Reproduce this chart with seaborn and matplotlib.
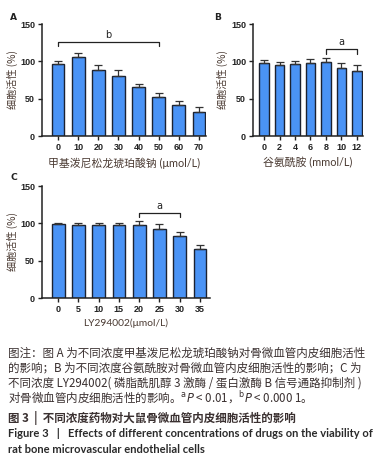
import matplotlib
matplotlib.use("Agg")
import matplotlib.pyplot as plt
import seaborn as sns
import numpy as np
import pandas as pd

sns.set_theme(style="ticks")
plt.rcParams['font.family'] = ['Noto Sans CJK SC', 'DejaVu Sans']

# Panel A
a_cats = ["0", "10", "20", "30", "40", "50", "60", "70"]
a_vals = [96, 106, 89, 81, 65, 52.5, 41, 31.5]
a_err = [4, 5.5, 6.5, 7, 4.5, 5.5, 6, 8]
a_xlabel = "甲基泼尼松龙琥珀酸钠 (μmol/L)"
# Panel B
b_cats = ["0", "2", "4", "6", "8", "10", "12"]
b_vals = [98, 95.5, 97, 98, 99.5, 91, 87]
b_err = [4, 4, 3, 4.5, 5, 6.5, 7.5]
b_xlabel = "谷氨酰胺 (mmol/L)"
# Panel C
c_cats = ["0", "5", "10", "15", "20", "25", "30", "35"]
c_vals = [98.5, 97.5, 97.5, 97.5, 97.5, 93, 83, 65.5]
c_err = [1.5, 3.5, 3, 3, 5.5, 5.5, 5, 6]
c_xlabel = "LY294002(μmol/L)"

ylabel = "细胞活性 (%)"
bar_color = "#4a93f5"
edge_color = "#1c2230"
label_color = "#4a3a32"
mixed = ["Lato", "Noto Sans CJK SC", "DejaVu Sans"]

fig = plt.figure(figsize=(3.79, 4.65), dpi=100)
W, H = 379, 465

def axes_px(l, t, r, b):
    return fig.add_axes([l / W, 1 - b / H, (r - l) / W, (b - t) / H])

def panel(ax, box, cats, vals, errs, xlabel, xlsize, xl_top, xlim, ylab_right, bracket=None):
    l, t, r, b = box
    df = pd.DataFrame({"c": cats, "v": vals})
    sns.barplot(data=df, x="c", y="v", ax=ax, color=bar_color, width=0.63,
                edgecolor=edge_color, linewidth=1.0, saturation=1, errorbar=None)
    pos = np.arange(len(cats))
    ax.errorbar(pos, vals, yerr=[np.zeros(len(errs)), errs], fmt="none",
                ecolor="#333333", elinewidth=0.9, capsize=3.2, capthick=0.9)
    ax.set_ylim(0, 150)
    ax.set_xlim(*xlim)
    ax.set_yticks([0, 50, 100, 150])
    for s in ["top", "right"]:
        ax.spines[s].set_visible(False)
    for s in ["left", "bottom"]:
        ax.spines[s].set_linewidth(1.1)
        ax.spines[s].set_color("#222222")
    ax.tick_params(axis="both", length=3, width=1.0, colors="#222222",
                   labelsize=6.5, pad=2)
    for lab in ax.get_xticklabels() + ax.get_yticklabels():
        lab.set_fontweight("bold")
        lab.set_color("#222222")
        lab.set_family(["Liberation Sans", "DejaVu Sans"])
    ax.set_xlabel(xlabel, fontsize=xlsize, color=label_color, family=mixed)
    ax.set_ylabel(ylabel, fontsize=7.3, color=label_color)
    ax.xaxis.set_label_coords(0.5, (b - xl_top) / (b - t))
    ax.yaxis.set_label_coords((ylab_right - l) / (r - l), 0.5)
    if bracket is not None:
        i0, i1, y, txt = bracket
        ax.plot([i0, i0, i1, i1], [y - 6, y, y, y - 6], color="#222222",
                lw=0.9, clip_on=False)
        ax.text((i0 + i1) / 2, y + 3, txt, ha="center", va="bottom",
                fontsize=7, color="#222222", family=["DejaVu Sans"])

boxA = (42, 24, 206, 136)
axA = axes_px(*boxA)
panel(axA, boxA, a_cats, a_vals, a_err, a_xlabel, 7.8, 157.5, (-0.8, 7.35), 17.5, (0, 5, 126, "b"))
boxB = (253, 24, 363, 136)
axB = axes_px(*boxB)
panel(axB, boxB, b_cats, b_vals, b_err, b_xlabel, 7.8, 157.5, (-0.72, 6.4), 227.5, (4, 6, 116, "a"))
boxC = (42, 186, 210, 298)
axC = axes_px(*boxC)
panel(axC, boxC, c_cats, c_vals, c_err, c_xlabel, 7.4, 318.5, (-0.8, 7.5), 17.5, (4, 6, 114, "a"))

for x, y, t in [(14, 18, "A"), (218, 18, "B"), (14, 177, "C")]:
    fig.text(x / W, 1 - y / H, t, fontsize=6.6, fontweight="bold",
             ha="center", va="center", family=["DejaVu Sans"], color="#222222")

cap_color = "#3a3030"
lines = [
    (353, "图注：图 A 为不同浓度甲基泼尼松龙琥珀酸钠对骨微血管内皮细胞活性", "normal"),
    (368, "的影响；B 为不同浓度谷氨酰胺对骨微血管内皮细胞活性的影响；C 为", "normal"),
    (383, "不同浓度 LY294002( 磷脂酰肌醇 3 激酶 / 蛋白激酶 B 信号通路抑制剂 )", "normal"),
    (398, r"对骨微血管内皮细胞活性的影响。$^{\mathrm{a}}$$\it{P}$ < 0.01，$^{\mathrm{b}}$$\it{P}$ < 0.000 1。", "normal"),
    (418, "图 3  |  不同浓度药物对大鼠骨微血管内皮细胞活性的影响", "bold"),
]
for y, t, w in lines:
    fig.text(8 / W, 1 - y / H, t, fontsize=8.3, ha="left", va="center",
             color=cap_color, fontweight=w)
fig.text(8 / W, 1 - 433 / H,
         "Figure 3   |   Effects of different concentrations of drugs on the viability of",
         fontsize=8.0, ha="left", va="center", color="#2a2a2a",
         fontweight="bold", family=["Lato", "DejaVu Sans"])
fig.text(8 / W, 1 - 449 / H, "rat bone microvascular endothelial cells",
         fontsize=8.0, ha="left", va="center", color="#2a2a2a",
         fontweight="bold", family=["Lato", "DejaVu Sans"])

fig.savefig("out.png", dpi=100)
